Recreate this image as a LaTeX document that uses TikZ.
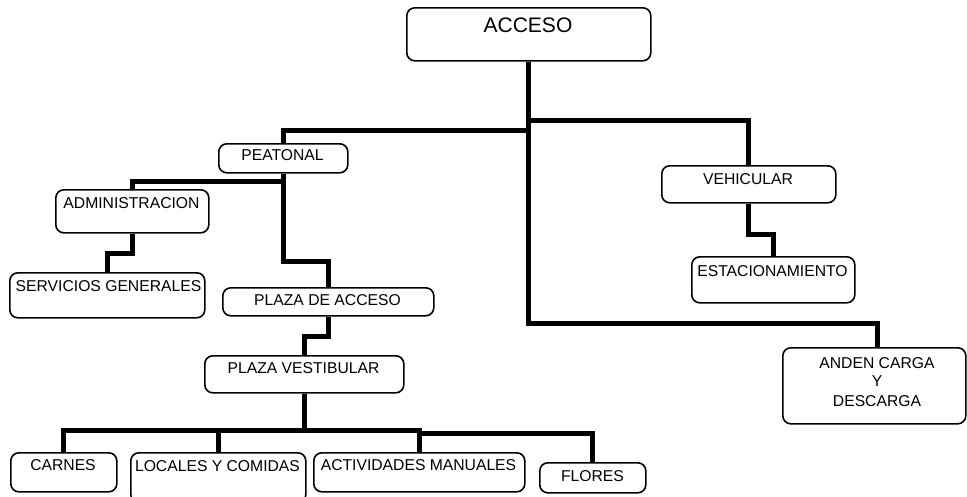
\documentclass[tikz,border=0pt]{standalone}
\usepackage{fontspec}
\setmainfont{Liberation Sans}
\usetikzlibrary{calc}
\begin{document}
\begin{tikzpicture}[x=1pt,y=-1pt,
  box/.style={draw, line width=1.6pt, rounded corners=8pt, anchor=north west, inner sep=0pt},
  conn/.style={line width=5pt},
  txt/.style={anchor=base, inner sep=0pt, font=\fontsize{15.7}{18}\selectfont},
  bigtxt/.style={anchor=base, inner sep=0pt, font=\fontsize{21}{24}\selectfont}]
\useasboundingbox (0,0) rectangle (967,496);
% boxes
\node[box, minimum width=244pt, minimum height=53pt] (acceso) at (406,7) {};
\node[box, minimum width=129pt, minimum height=29pt] (peatonal) at (218,143) {};
\node[box, minimum width=153pt, minimum height=43pt] (admin) at (55,189) {};
\node[box, minimum width=195pt, minimum height=45pt] (servicios) at (9,272) {};
\node[box, minimum width=211pt, minimum height=28pt] (pacceso) at (222,287) {};
\node[box, minimum width=199pt, minimum height=37pt] (pvest) at (204,355) {};
\node[box, minimum width=106pt, minimum height=39pt] (carnes) at (10,452) {};
\node[box, minimum width=175pt, minimum height=50pt] (locales) at (130,452) {};
\node[box, minimum width=211pt, minimum height=39pt] (activ) at (313,452) {};
\node[box, minimum width=106pt, minimum height=30pt] (flores) at (539,462) {};
\node[box, minimum width=174pt, minimum height=37pt] (vehicular) at (661,165) {};
\node[box, minimum width=163pt, minimum height=46pt] (estac) at (691,256) {};
\node[box, minimum width=183pt, minimum height=76pt] (anden) at (782,347) {};
% texts
\node[bigtxt] (acceso-t) at (528,32.3) {ACCESO};
\node[txt] (peatonal-t) at (282.5,160) {PEATONAL};
\node[txt] (admin-t) at (131.5,208.3) {ADMINISTRACION};
\node[txt] (servicios-t) at (108.5,291.7) {SERVICIOS GENERALES};
\node[txt] (pacceso-t) at (327.5,305.7) {PLAZA DE ACCESO};
\node[txt] (pvest-t) at (303.5,373.3) {PLAZA VESTIBULAR};
\node[txt] (carnes-t) at (63,470.7) {CARNES};
\node[txt] (locales-t) at (217.5,471.5) {LOCALES Y COMIDAS};
\node[txt] (activ-t) at (418.5,470.7) {ACTIVIDADES MANUALES};
\node[txt] (flores-t) at (592.5,481) {FLORES};
\node[txt] (vehicular-t) at (748,184) {VEHICULAR};
\node[txt] (estac-t) at (772.5,276.7) {ESTACIONAMIENTO};
\node[txt] (anden-t1) at (877,368.3) {ANDEN CARGA};
\node[txt] (anden-t2) at (877,386.7) {Y};
\node[txt] (anden-t3) at (877,406) {DESCARGA};
% junctions
\coordinate (jR) at (528,120);
\coordinate (jL) at (528,130);
\coordinate (jA) at (877,323);
% connectors
\draw[conn] (acceso.south) |- (jA) -- (jA |- anden.north);
\draw[conn] (jR) -| (vehicular.north);
\draw[conn] (jL) -| (peatonal.north);
\draw[conn] (vehicular.south) -- ++(0,31) -| (estac.north);
\draw[conn] (peatonal.south) -- ++(0,8) -| (admin.north);
\draw[conn] (peatonal.south) -- ++(0,88) -| (pacceso.north);
\draw[conn] (admin.south) -- ++(0,20) -| (servicios.north);
\draw[conn] (pacceso.south) -- ++(0,20) -| (pvest.north);
\draw[conn] (pvest.south) -- ++(0,37) coordinate (jV);
\draw[conn] (carnes.north) |- (jV) -- (jV -| activ.north) -- (activ.north);
\draw[conn] (locales.north) -- (locales.north |- jV);
\draw[conn] ($(jV -| activ.north)+(0,3)$) -| (flores.north);
\end{tikzpicture}
\end{document}
